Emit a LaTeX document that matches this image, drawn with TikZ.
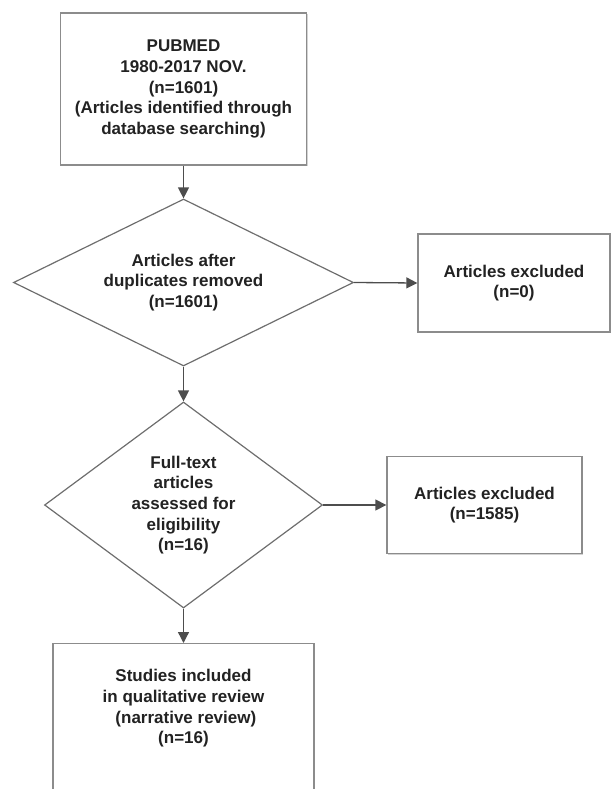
\documentclass[tikz,border=0pt]{standalone}
\usepackage{fontspec}
\setmainfont{Liberation Sans}
\usetikzlibrary{shapes.geometric,arrows.meta,shadows}
\definecolor{linegray}{HTML}{4D4D4D}
\definecolor{boxgray}{HTML}{8C8C8C}
\definecolor{diagray}{HTML}{6E6E6E}
\definecolor{txt}{HTML}{222222}
\begin{document}
\begin{tikzpicture}[x=1pt,y=-1pt,
  lbl/.style={font=\bfseries\fontsize{17}{20.7}\selectfont, text=txt, align=center},
  box/.style={lbl, draw=boxgray, line width=1.3pt, fill=white, rectangle, inner sep=0pt,
    drop shadow={shadow xshift=1.2pt, shadow yshift=-1.2pt, opacity=0.35}},
  dia/.style={lbl, draw=diagray, line width=1.2pt, diamond, inner sep=0pt, fill=white},
  conn/.style={draw=linegray, line width=1.3pt, -{Triangle[length=11pt,width=11pt]}}
]
\useasboundingbox (0,0) rectangle (612,789);
\clip (0,0) rectangle (612,789);

\node[box, minimum width=246pt, minimum height=152pt] (src) at (183.5,89)
  {PUBMED\\1980-2017 NOV.\\(n=1601)\\(Articles identified through\\database searching)};
\node[dia, shape aspect=2.04, minimum width=340pt, minimum height=167pt] (d1) at (183.5,282.5)
  {Articles after\\duplicates removed\\(n=1601)};
\node[box, minimum width=192pt, minimum height=98pt] (ex1) at (514,283)
  {Articles excluded\\(n=0)};
\node[dia, shape aspect=1.35, minimum width=278pt, minimum height=206pt] (d2) at (183.5,505)
  {Full-text\\articles\\assessed for\\eligibility\\(n=16)};
\node[box, minimum width=195pt, minimum height=97pt] (ex2) at (484.5,505)
  {Articles excluded\\(n=1585)};
\node[box, minimum width=261pt, minimum height=180pt, anchor=north] (incl) at (183.5,643) {};
\node[lbl] (incltxt) at (183.5,708.5)
  {Studies included\\in qualitative review\\\ (narrative review)\\(n=16)};

\draw[conn] (src.south) -- (d1.north);
\draw[conn] (d1.east) -- (ex1.west);
\draw[conn] (d1.south) -- (d2.north);
\draw[conn] (d2.east) -- (ex2.west);
\draw[conn] (d2.south) -- (incl.north);
\end{tikzpicture}
\end{document}
